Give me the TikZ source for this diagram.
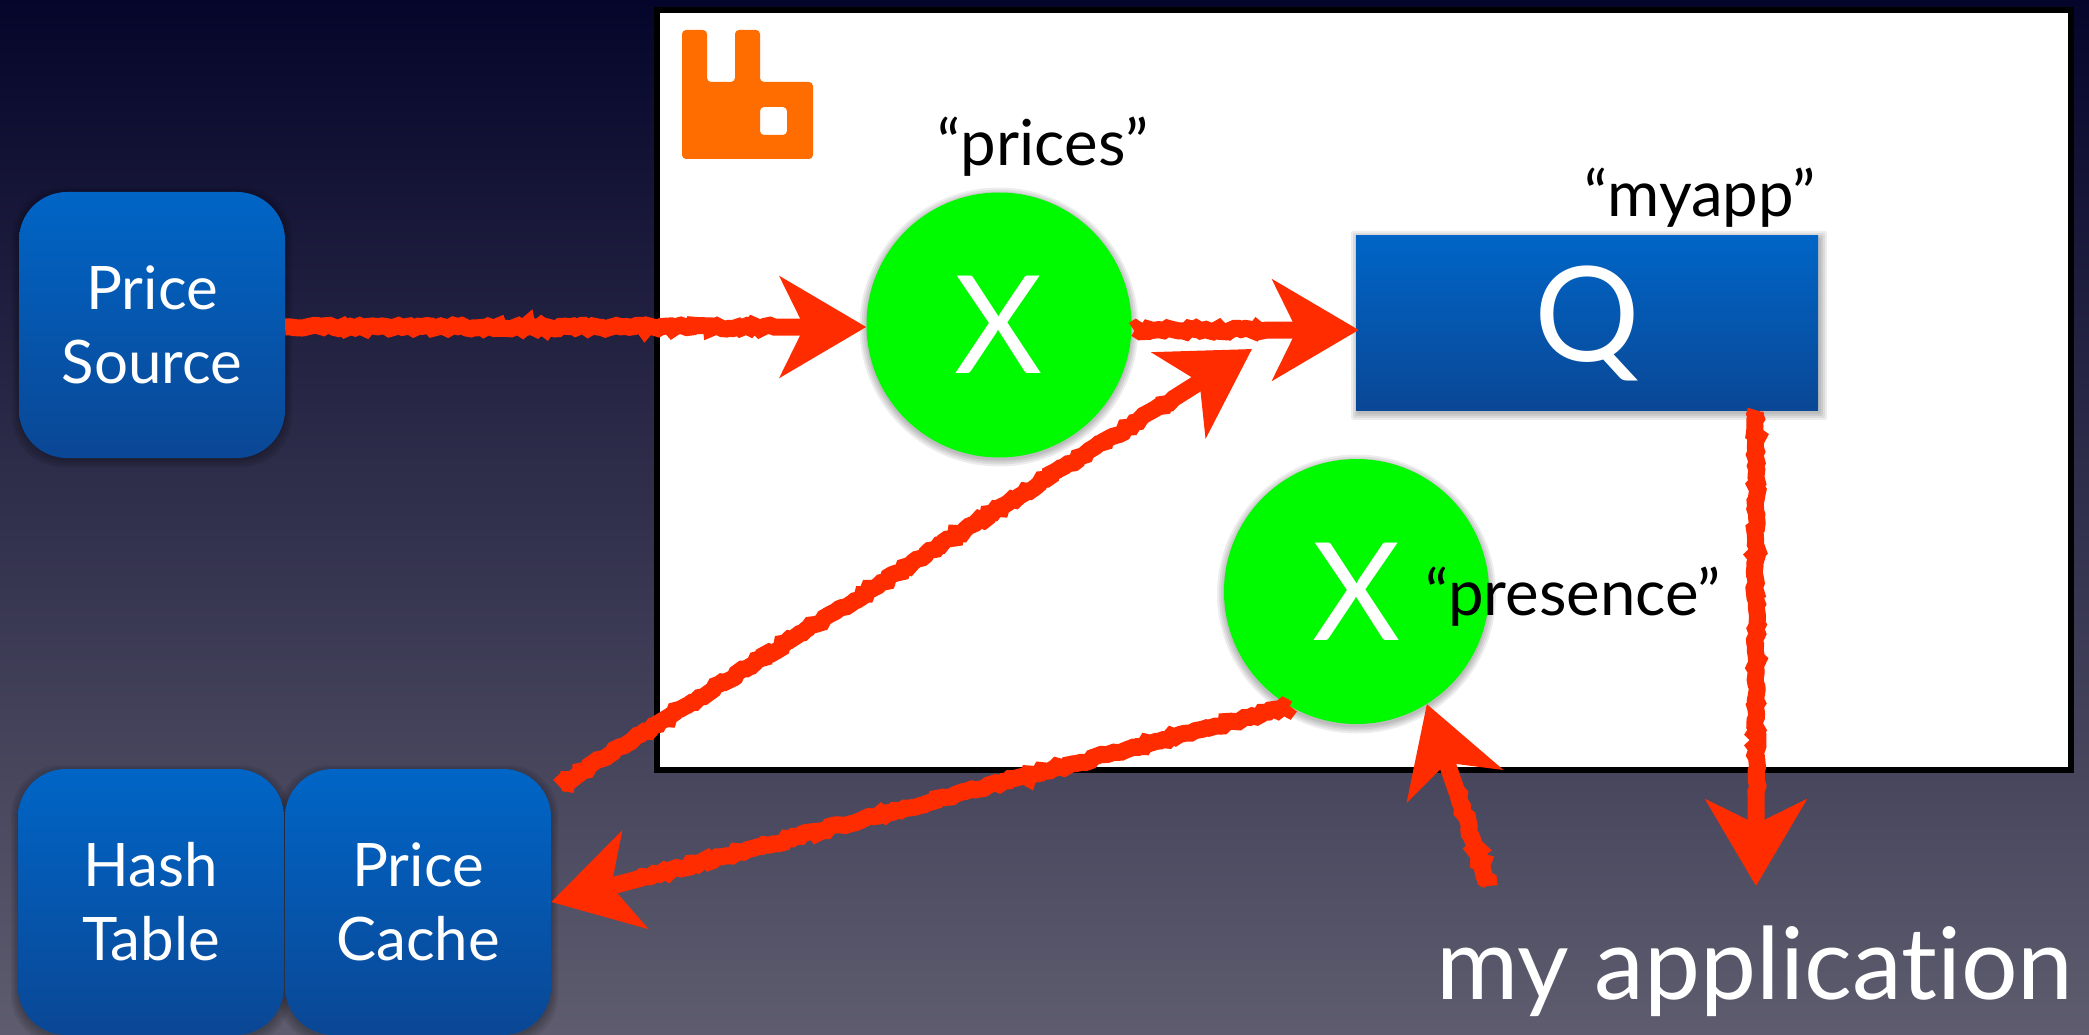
\documentclass[tikz,border=0pt]{standalone}
\usepackage{fontspec}
\setmainfont{Lato}[Ligatures=NoCommon]
\usetikzlibrary{arrows.meta,decorations.pathmorphing,calc}
\definecolor{bgtop}{HTML}{05052B}
\definecolor{bgbot}{HTML}{5E5C6E}
\definecolor{boxtop}{HTML}{0065C6}
\definecolor{boxbot}{HTML}{0A4795}
\definecolor{sketch}{HTML}{FF2C00}
\definecolor{exgreen}{HTML}{00FA00}
\definecolor{rabbit}{HTML}{FF6C00}
\tikzset{
  x=1pt,y=-1pt,
  srv/.style={rounded corners=48pt,minimum width=266pt,minimum height=266pt,inner sep=0pt,
    top color=boxtop,bottom color=boxbot,text=white,align=center,
    font=\fontsize{60}{74}\selectfont},
  exch/.style={circle,fill=exgreen,minimum size=265pt,inner sep=0pt,text=white,
    font=\fontsize{136}{136}\selectfont},
  lbl/.style={anchor=base,text=black,font=\fontsize{63.5}{66}\selectfont,inner sep=0pt},
  sk/.style={draw=sketch,line width=17pt,
    decorate,decoration={random steps,segment length=4pt,amplitude=2pt,post length=92pt},
    -{Stealth[length=86pt,width=100pt,inset=24pt,sketch]}},
}
\begin{document}
\begin{tikzpicture}
\pgfmathsetseed{11}
\path[use as bounding box,top color=bgtop,bottom color=bgbot] (0,0) rectangle (2089,1035);
% panel
\draw[fill=white,draw=black,line width=6pt] (657,10) rectangle (2071,770);
% logo
\fill[rabbit,rounded corners=4pt,even odd rule]
  (682,30) -- (707,30) -- (707,82) -- (735,82) -- (735,30) -- (760,30) -- (760,82)
  -- (813,82) -- (813,159) -- (682,159) -- cycle
  (760,107) -- (787,107) -- (787,135) -- (760,135) -- cycle;
% soft shadows
\foreach \r in {7,5,3,1} {
  \fill[black,opacity=0.07] (999,327) circle[radius=132.5+\r];
  \fill[black,opacity=0.07] (1356.5,594) circle[radius=132.5+\r];
  \fill[black,opacity=0.07,rounded corners=2pt] (1358-\r,238-\r) rectangle (1820+\r,413+\r);
  \fill[black,opacity=0.07,rounded corners=50pt] (19-\r,194-\r) rectangle (285+\r,460+\r);
  \fill[black,opacity=0.07,rounded corners=50pt] (18-\r,772-\r) rectangle (284+\r,1038+\r);
  \fill[black,opacity=0.07,rounded corners=50pt] (285-\r,772-\r) rectangle (551+\r,1038+\r);
}
% nodes
\node[srv] (source) at (152,325) {Price\\Source};
\node[srv] (hash) at (151,902) {Hash\\Table};
\node[srv] (cache) at (418,902) {Price\\Cache};
\node[exch] (prices) at (999,325) {X};
\node[exch] (presence) at (1356.5,591.5) {X};
\node[rectangle,minimum width=462pt,minimum height=174pt,inner sep=0pt,
  top color=boxtop,bottom color=boxbot,text=white,font=\fontsize{132}{132}\selectfont] (queue) at (1587,323) {Q};
\node[lbl] (lprices) at (1043,166) {“prices”};
\node[lbl] (lmyapp) at (1700,217) {“myapp”};
\node[lbl] (lpresence) at (1573,615) {“presence”};
\node[anchor=base,text=white,inner sep=0pt,font=\fontsize{100}{100}\selectfont] (app) at (1755,999) {my application};
\coordinate (appleft) at (1489,886);
\coordinate (appdown) at (1756,886);
\coordinate (merge) at (1252,349);
\coordinate (cacheout) at (559,786);
% connectors
\draw[sk] (source.east |- 0,327) -- (prices.west |- 0,327);
\draw[sk] ($(prices.east |- 0,330)+(2,0)$) -- ($(queue.west |- 0,330)+(3,0)$);
\draw[sk] (cacheout) -- (merge);
\draw[sk] (presence.240.7) -- (cache.east);
\draw[sk] (queue.south -| appdown) -- (appdown);
\draw[sk] (appleft) -- (presence.302);
\end{tikzpicture}
\end{document}
